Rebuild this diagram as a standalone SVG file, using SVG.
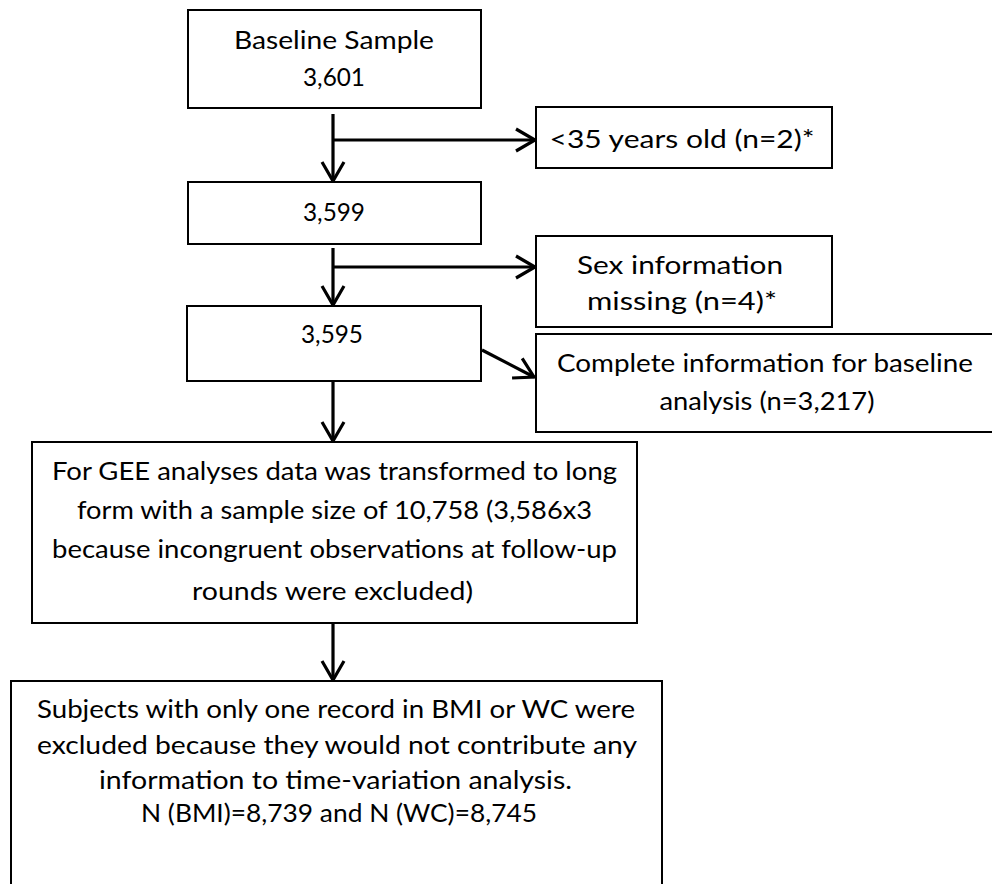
<svg xmlns="http://www.w3.org/2000/svg" width="992" height="884" viewBox="0 0 992 884">
<defs>
<style>
.box{fill:#fff;stroke:#000;stroke-width:2}
.t{font-family:Lato,"Noto Sans","Liberation Sans",sans-serif;font-size:25px;fill:#000;text-anchor:middle}
.c{fill:none;stroke:#000;stroke-width:3.2;marker-end:url(#ah)}
</style>
<marker id="ah" viewBox="0 0 22 26" refX="20" refY="13" markerWidth="22" markerHeight="26" markerUnits="userSpaceOnUse" orient="auto" overflow="visible">
<path d="M1,2 L20,13 L1,24" fill="none" stroke="#000" stroke-width="3.2" stroke-linejoin="miter"/>
</marker>
</defs>
<rect width="992" height="884" fill="#fff"/>
<g id="connectors">
<path class="c" d="M333,114 V181"/>
<path class="c" d="M333,140 H535"/>
<path class="c" d="M333,248 V305"/>
<path class="c" d="M333,267 H535"/>
<path class="c" d="M482,350 L534,377"/>
<path class="c" d="M333,381 V441"/>
<path class="c" d="M333,623 V680"/>
</g>
<g id="baseline">
<rect class="box" x="188" y="10" width="293" height="98"/>
<text class="t" x="334" y="49" textLength="200" lengthAdjust="spacingAndGlyphs">Baseline Sample</text>
<text class="t" x="334" y="86" textLength="62" lengthAdjust="spacingAndGlyphs">3,601</text>
</g>
<g id="excl-age">
<rect class="box" x="536" y="107" width="296" height="61"/>
<text class="t" x="682" y="148" textLength="265" lengthAdjust="spacingAndGlyphs">&lt;35 years old (n=2)*</text>
</g>
<g id="n3599">
<rect class="box" x="188" y="182" width="293" height="62"/>
<text class="t" x="334" y="221" textLength="62" lengthAdjust="spacingAndGlyphs">3,599</text>
</g>
<g id="excl-sex">
<rect class="box" x="536" y="236" width="296" height="91"/>
<text class="t" x="680" y="274" textLength="206" lengthAdjust="spacingAndGlyphs">Sex information</text>
<text class="t" x="682" y="310" textLength="190" lengthAdjust="spacingAndGlyphs">missing (n=4)*</text>
</g>
<g id="n3595">
<rect class="box" x="187" y="306" width="294" height="75"/>
<text class="t" x="332" y="343" textLength="62" lengthAdjust="spacingAndGlyphs">3,595</text>
</g>
<g id="complete">
<rect class="box" x="536" y="334" width="470" height="98"/>
<text class="t" x="765" y="372" textLength="416" lengthAdjust="spacingAndGlyphs">Complete information for baseline</text>
<text class="t" x="767" y="410" textLength="215" lengthAdjust="spacingAndGlyphs">analysis (n=3,217)</text>
</g>
<g id="gee">
<rect class="box" x="32" y="442" width="605" height="181"/>
<text class="t" x="334.5" y="480" textLength="565" lengthAdjust="spacingAndGlyphs">For GEE analyses data was transformed to long</text>
<text class="t" x="334.5" y="519" textLength="515" lengthAdjust="spacingAndGlyphs">form with a sample size of 10,758 (3,586x3</text>
<text class="t" x="334.5" y="558" textLength="565" lengthAdjust="spacingAndGlyphs">because incongruent observations at follow-up</text>
<text class="t" x="332.5" y="600" textLength="281" lengthAdjust="spacingAndGlyphs">rounds were excluded)</text>
</g>
<g id="final">
<rect class="box" x="11" y="681" width="651" height="220"/>
<text class="t" x="336" y="718" textLength="598" lengthAdjust="spacingAndGlyphs">Subjects with only one record in BMI or WC were</text>
<text class="t" x="337" y="754" textLength="600" lengthAdjust="spacingAndGlyphs">excluded because they would not contribute any</text>
<text class="t" x="335.5" y="789" textLength="473" lengthAdjust="spacingAndGlyphs">information to time-variation analysis.</text>
<text class="t" x="339" y="822" textLength="396" lengthAdjust="spacingAndGlyphs">N (BMI)=8,739 and N (WC)=8,745</text>
</g>
</svg>
